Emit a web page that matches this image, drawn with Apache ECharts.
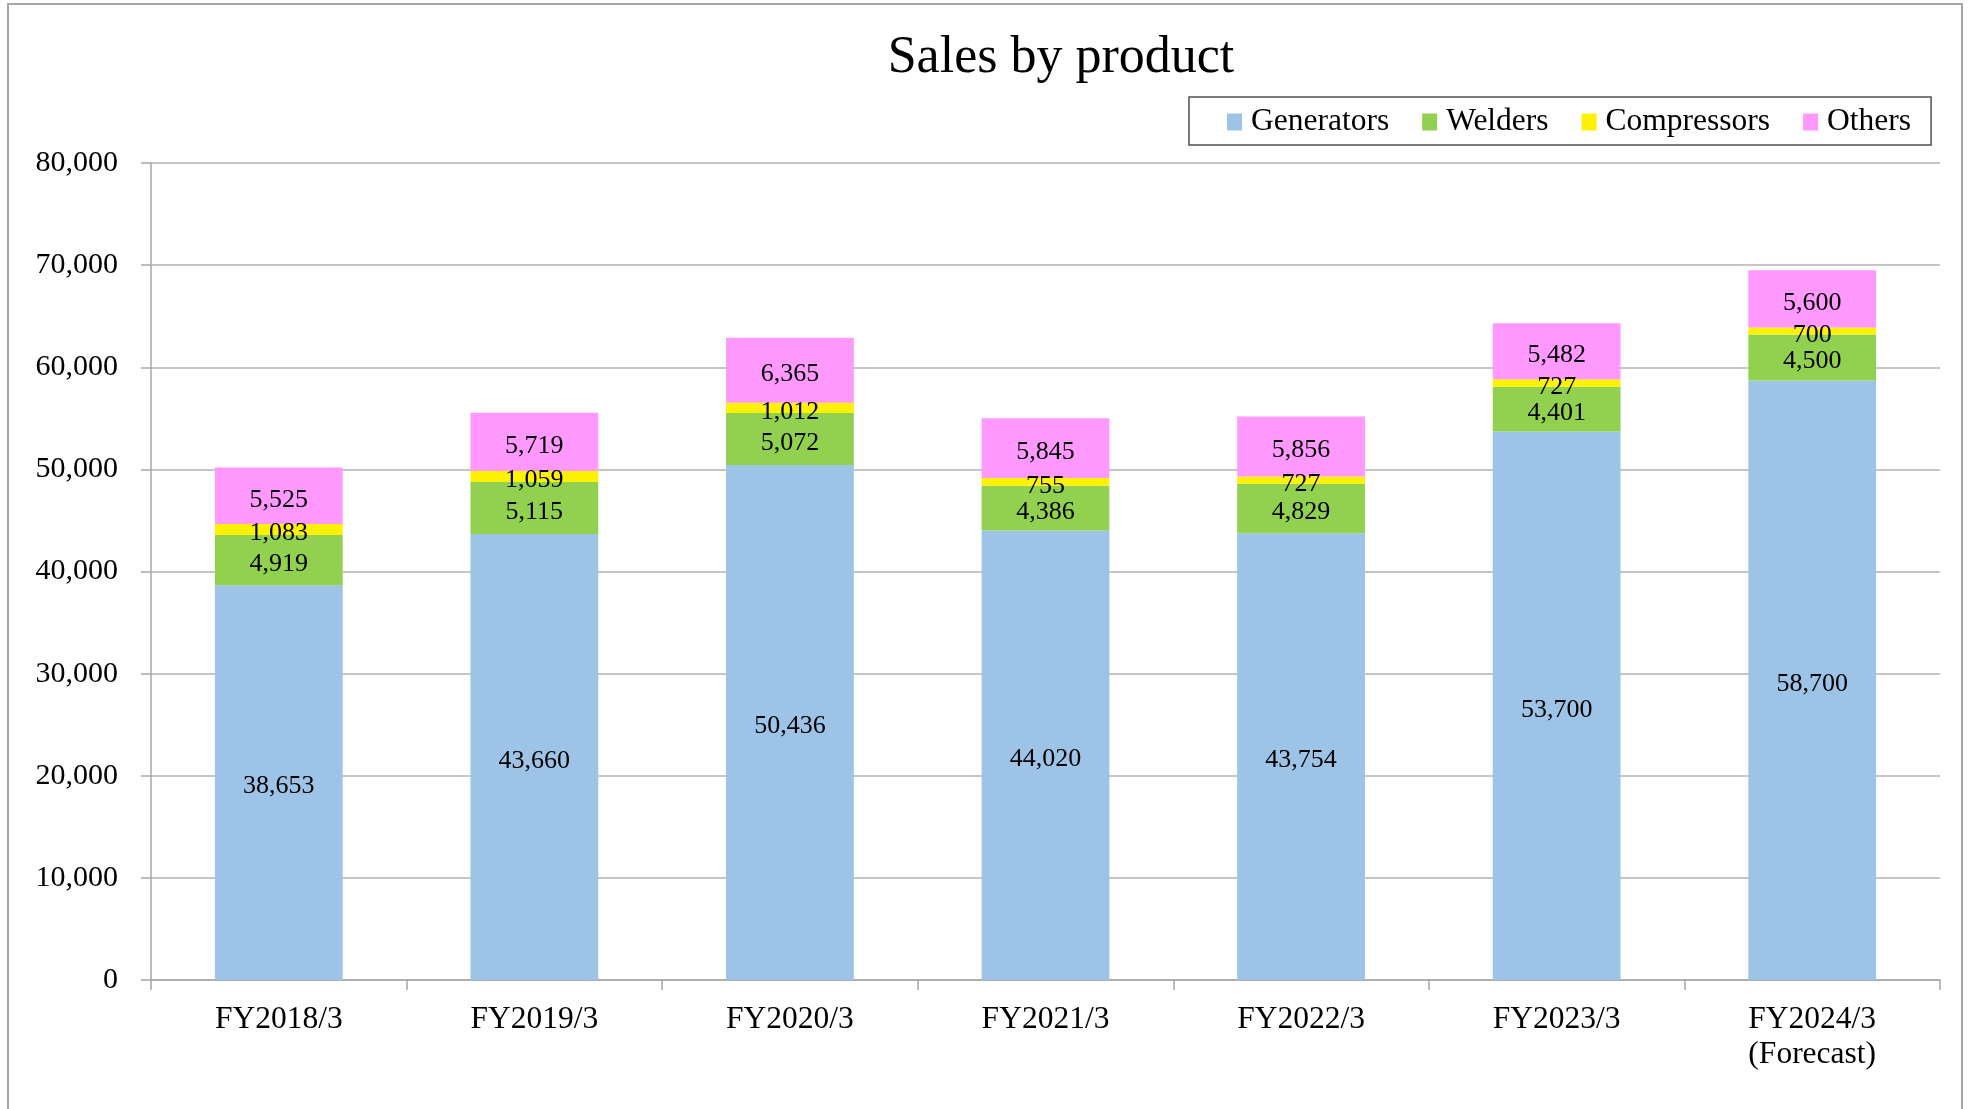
<!DOCTYPE html>
<html>
<head>
<meta charset="utf-8">
<title>Sales by product</title>
<script src="https://cdn.jsdelivr.net/npm/echarts@6/dist/echarts.min.js"></script>
<style>
  html, body { margin: 0; padding: 0; background: #fff; }
  #chart { width: 1968px; height: 1109px; }
</style>
</head>
<body>
<div id="chart"></div>
<script>
// values
const categories = ["FY2018/3", "FY2019/3", "FY2020/3", "FY2021/3", "FY2022/3", "FY2023/3", "FY2024/3\n(Forecast)"]
const generators = [38653, 43660, 50436, 44020, 43754, 53700, 58700]
const welders = [4919, 5115, 5072, 4386, 4829, 4401, 4500]
const compressors = [1083, 1059, 1012, 755, 727, 727, 700]
const others = [5525, 5719, 6365, 5845, 5856, 5482, 5600]

const font = "'Liberation Serif', 'Times New Roman', serif"

let myChart = echarts.init(document.getElementById("chart"))

function seriesOf(name, data, color) {
  return {
    name: name,
    type: "bar",
    stack: "Total",
    barWidth: "50%",
    data: data,
    itemStyle: { color: color },
    label: {
      show: true,
      position: "inside",
      offset: [0, 4],
      color: "#000",
      fontFamily: font,
      fontSize: 26,
      formatter: p => p.value.toLocaleString("en-US")
    }
  }
}

myChart.setOption({
  animation: false,
  backgroundColor: "#fff",
  graphic: [{
    type: "rect",
    shape: { x: 8, y: 4, width: 1954, height: 1130 },
    style: { fill: "none", stroke: "#a6a6a6", lineWidth: 2 },
    silent: true
  }],
  title: {
    text: "Sales by product",
    left: 1056,
    top: 27,
    textAlign: "center",
    textStyle: {
      fontFamily: font,
      fontSize: 52,
      fontWeight: "normal",
      color: "#000"
    }
  },
  legend: {
    left: 1189,
    top: 97,
    padding: [9, 20, 7, 38],
    itemGap: 33,
    itemWidth: 15,
    itemHeight: 17,
    borderColor: "#505050",
    borderWidth: 1.5,
    icon: "rect",
    textStyle: {
      fontFamily: font,
      fontSize: 31.5,
      color: "#000",
      padding: [0, 0, 0, 4]
    }
  },
  grid: {
    left: 151,
    right: 28,
    top: 163,
    bottom: 129
  },
  xAxis: {
    type: "category",
    data: categories,
    axisLine: { lineStyle: { color: "#a6a6a6", width: 1.5 } },
    axisTick: { show: true, length: 10, lineStyle: { color: "#a6a6a6", width: 1.5 } },
    axisLabel: {
      margin: 22,
      color: "#000",
      fontFamily: font,
      fontSize: 31.5,
      lineHeight: 35
    }
  },
  yAxis: {
    type: "value",
    min: 0,
    max: 80000,
    interval: 10000,
    axisLine: { show: true, lineStyle: { color: "#a6a6a6", width: 1.5 } },
    axisTick: { show: true, length: 10, lineStyle: { color: "#a6a6a6", width: 1.5 } },
    splitLine: { lineStyle: { color: "#b3b3b3", width: 1.5 } },
    axisLabel: {
      margin: 33,
      color: "#000",
      fontFamily: font,
      fontSize: 30,
      padding: [8, 0, 0, 0],
      formatter: v => v.toLocaleString("en-US")
    }
  },
  series: [
    seriesOf("Generators", generators, "#9DC3E6"),
    seriesOf("Welders", welders, "#92D050"),
    seriesOf("Compressors", compressors, "#FFF200"),
    seriesOf("Others", others, "#FF99FF")
  ]
})
</script>
</body>
</html>
